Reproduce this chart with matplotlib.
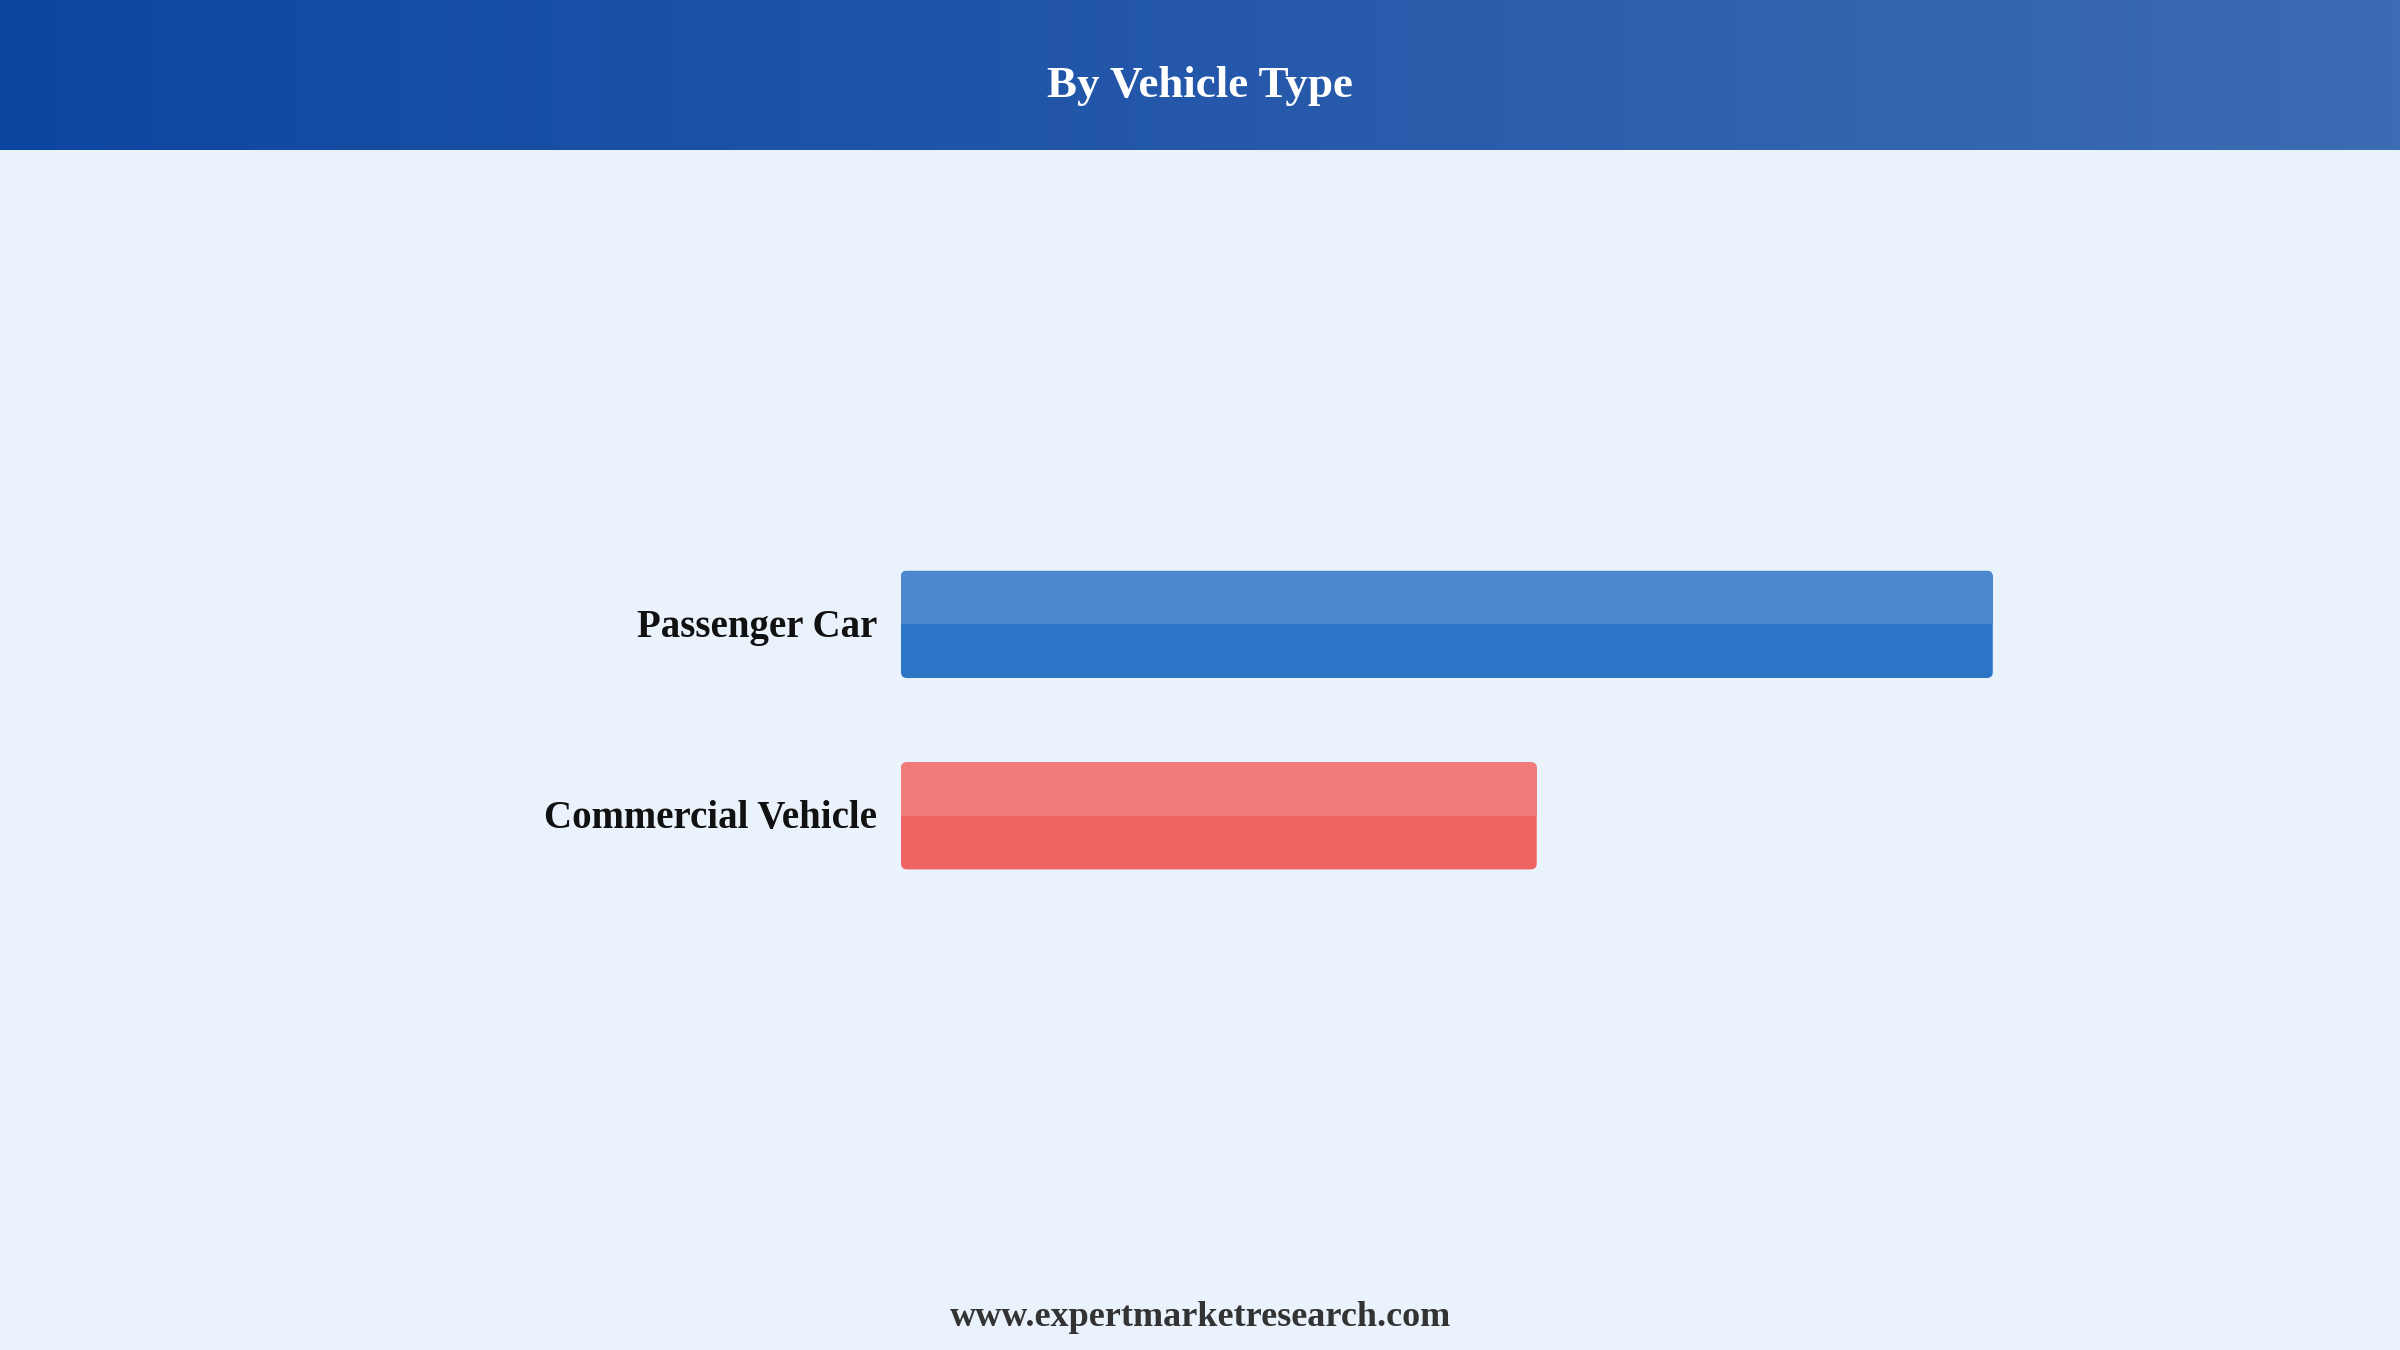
import numpy as np
import matplotlib.pyplot as plt
from matplotlib.patches import FancyBboxPatch, Rectangle
from matplotlib.colors import LinearSegmentedColormap

# data
categories = ['Passenger Car', 'Commercial Vehicle']
shares = [63.2, 36.8]
dark_colours = ['#2B74C6', '#EF6463']
light_colours = ['#4B88CE', '#F07B7A']

bg = '#EAF2FC'
W, H = 24, 13.5
fig = plt.figure(figsize=(W, H), dpi=100, facecolor=bg)

# header band with horizontal gradient
hdr = fig.add_axes([0, 1 - 150 / 1350, 1, 150 / 1350])
grad = LinearSegmentedColormap.from_list('hdr', ['#0D46A1', '#2558AA', '#3C6CB3'])
hdr.imshow(np.linspace(0, 1, 256).reshape(1, -1), aspect='auto', cmap=grad,
           extent=[0, 1, 0, 1])
hdr.set_axis_off()
hdr.text(0.5, 0.43, 'By Vehicle Type', color='white', fontsize=32.5,
         fontweight='bold', family='Liberation Serif', ha='center', va='center')

# bar area, in pixels of the 2400x1350 canvas
left_px, right_px = 901, 2283
top_px, bottom_px = 433, 1013
ax = fig.add_axes([left_px / 2400, 1 - bottom_px / 1350,
                   (right_px - left_px) / 2400, (bottom_px - top_px) / 1350])
ax.set_facecolor(bg)
xmax = 80
ax.set_xlim(0, xmax)
ymin, ymax = -1.0, 2.03
ax.set_ylim(ymin, ymax)
ax.invert_yaxis()
ax.set_axis_off()

ypos = np.arange(len(categories)) * 1.0
bar_h = 0.56
bars = ax.barh(ypos, shares, height=bar_h, color='none')

# aspect to keep corners circular
px_per_x = (right_px - left_px) / xmax
px_per_y = (bottom_px - top_px) / (ymax - ymin)
aspect = px_per_x / px_per_y
radius = 6 / px_per_x

for b, dc, lc, lab in zip(bars, dark_colours, light_colours, categories):
    x0, y0 = b.get_x(), b.get_y()
    w, h = b.get_width(), b.get_height()
    style = 'round,pad=0,rounding_size=%f' % radius
    ax.add_patch(FancyBboxPatch((x0, y0), w, h, boxstyle=style,
                                mutation_aspect=aspect, fc=dc, ec='none'))
    top = FancyBboxPatch((x0, y0), w, h, boxstyle=style,
                         mutation_aspect=aspect, fc=lc, ec='none')
    ax.add_patch(top)
    # y is inverted, so the upper half is y0 .. y0 + h/2
    clip = Rectangle((x0 - 1, y0), w + 2, h / 2, transform=ax.transData)
    top.set_clip_path(clip)
    ax.text(x0 - 24 / px_per_x, y0 + h / 2 + 3 / px_per_y, lab, ha='right',
            va='center', fontsize=28, fontweight='bold',
            family='Liberation Serif', color='#111111')

fig.text(0.5, 1 - 1317 / 1350, 'www.expertmarketresearch.com', ha='center',
         va='center', fontsize=26, fontweight='bold', family='Liberation Serif',
         color='#333333')

fig.savefig('out.png', dpi=100, facecolor=bg)
